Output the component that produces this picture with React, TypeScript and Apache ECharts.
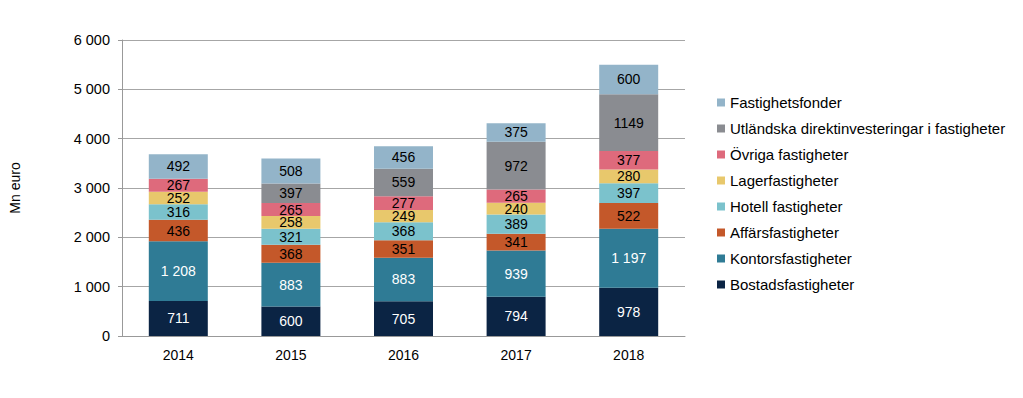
import React, { useEffect, useRef } from "react";
import * as echarts from "echarts";

const years = ["2014", "2015", "2016", "2017", "2018"];
const seriesNames = [
  "Bostadsfastigheter",
  "Kontorsfastigheter",
  "Affärsfastigheter",
  "Hotell fastigheter",
  "Lagerfastigheter",
  "Övriga fastigheter",
  "Utländska direktinvesteringar i fastigheter",
  "Fastighetsfonder",
];
const bostads = [711, 600, 705, 794, 978];
const kontors = [1208, 883, 883, 939, 1197];
const affars = [436, 368, 351, 341, 522];
const hotell = [316, 321, 368, 389, 397];
const lager = [252, 258, 249, 240, 280];
const ovriga = [267, 265, 277, 265, 377];
const utlandska = [0, 397, 559, 972, 1149];
const fonder = [492, 508, 456, 375, 600];
const yTicks = [0, 1000, 2000, 3000, 4000, 5000, 6000];

const values = [bostads, kontors, affars, hotell, lager, ovriga, utlandska, fonder];
const colors = ["#0b2444", "#2f7b95", "#c4582a", "#7bc2cc", "#e8c86c", "#de6a7c", "#8a8c91", "#93b4c9"];
const labelColors = ["#ffffff", "#ffffff", "#000000", "#000000", "#000000", "#000000", "#000000", "#000000"];

const fmt = (v: number) => {
  const s = String(Math.round(v));
  return s.replace(/\B(?=(\d{3})+(?!\d))/g, " ");
};

const FONT = "Liberation Sans, Arial, sans-serif";

export default function App() {
  const ref = useRef<HTMLDivElement>(null);
  useEffect(() => {
    if (!ref.current) return;
    const chart = echarts.init(ref.current, undefined, { renderer: "svg" });
    chart.setOption({
      animation: false,
      textStyle: { fontFamily: FONT },
      grid: { left: 114, right: 330, top: 32, bottom: 54, outerBoundsMode: "none", containLabel: false },
      legend: {
        orient: "vertical",
        left: 704,
        top: 82,
        itemWidth: 8,
        itemHeight: 8,
        itemGap: 11,
        icon: "rect",
        textStyle: { fontSize: 15, color: "#000", fontFamily: FONT },
        data: [...seriesNames].reverse(),
      },
      xAxis: {
        type: "category",
        data: years,
        axisLine: { lineStyle: { color: "#999" } },
        axisTick: { show: false },
        axisLabel: { color: "#000", fontSize: 14, margin: 12 },
      },
      yAxis: {
        type: "value",
        min: 0,
        max: 6000,
        interval: 1000,
        name: "Mn euro",
        nameLocation: "middle",
        nameGap: 100,
        nameRotate: 90,
        nameTextStyle: { color: "#000", fontSize: 14 },
        axisLine: { show: true, lineStyle: { color: "#999" } },
        axisTick: { show: true, length: 4, lineStyle: { color: "#999" } },
        axisLabel: {
          color: "#000",
          fontSize: 14.5,
          margin: 12,
          formatter: (v: number) => (yTicks.includes(v) ? fmt(v) : ""),
        },
        splitLine: { lineStyle: { color: "#a6a6a6" } },
      },
      series: seriesNames.map((name, i) => ({
        name,
        type: "bar",
        stack: "total",
        barWidth: 59,
        data: values[i],
        itemStyle: { color: colors[i] },
        label: {
          show: true,
          position: "inside",
          color: labelColors[i],
          fontSize: 14,
          formatter: (p: any) => (p.value ? (i === 6 ? String(p.value) : fmt(p.value)) : ""),
        },
      })),
    });
    return () => chart.dispose();
  }, []);
  return <div ref={ref} style={{ width: 1007, height: 382 }} />;
}
